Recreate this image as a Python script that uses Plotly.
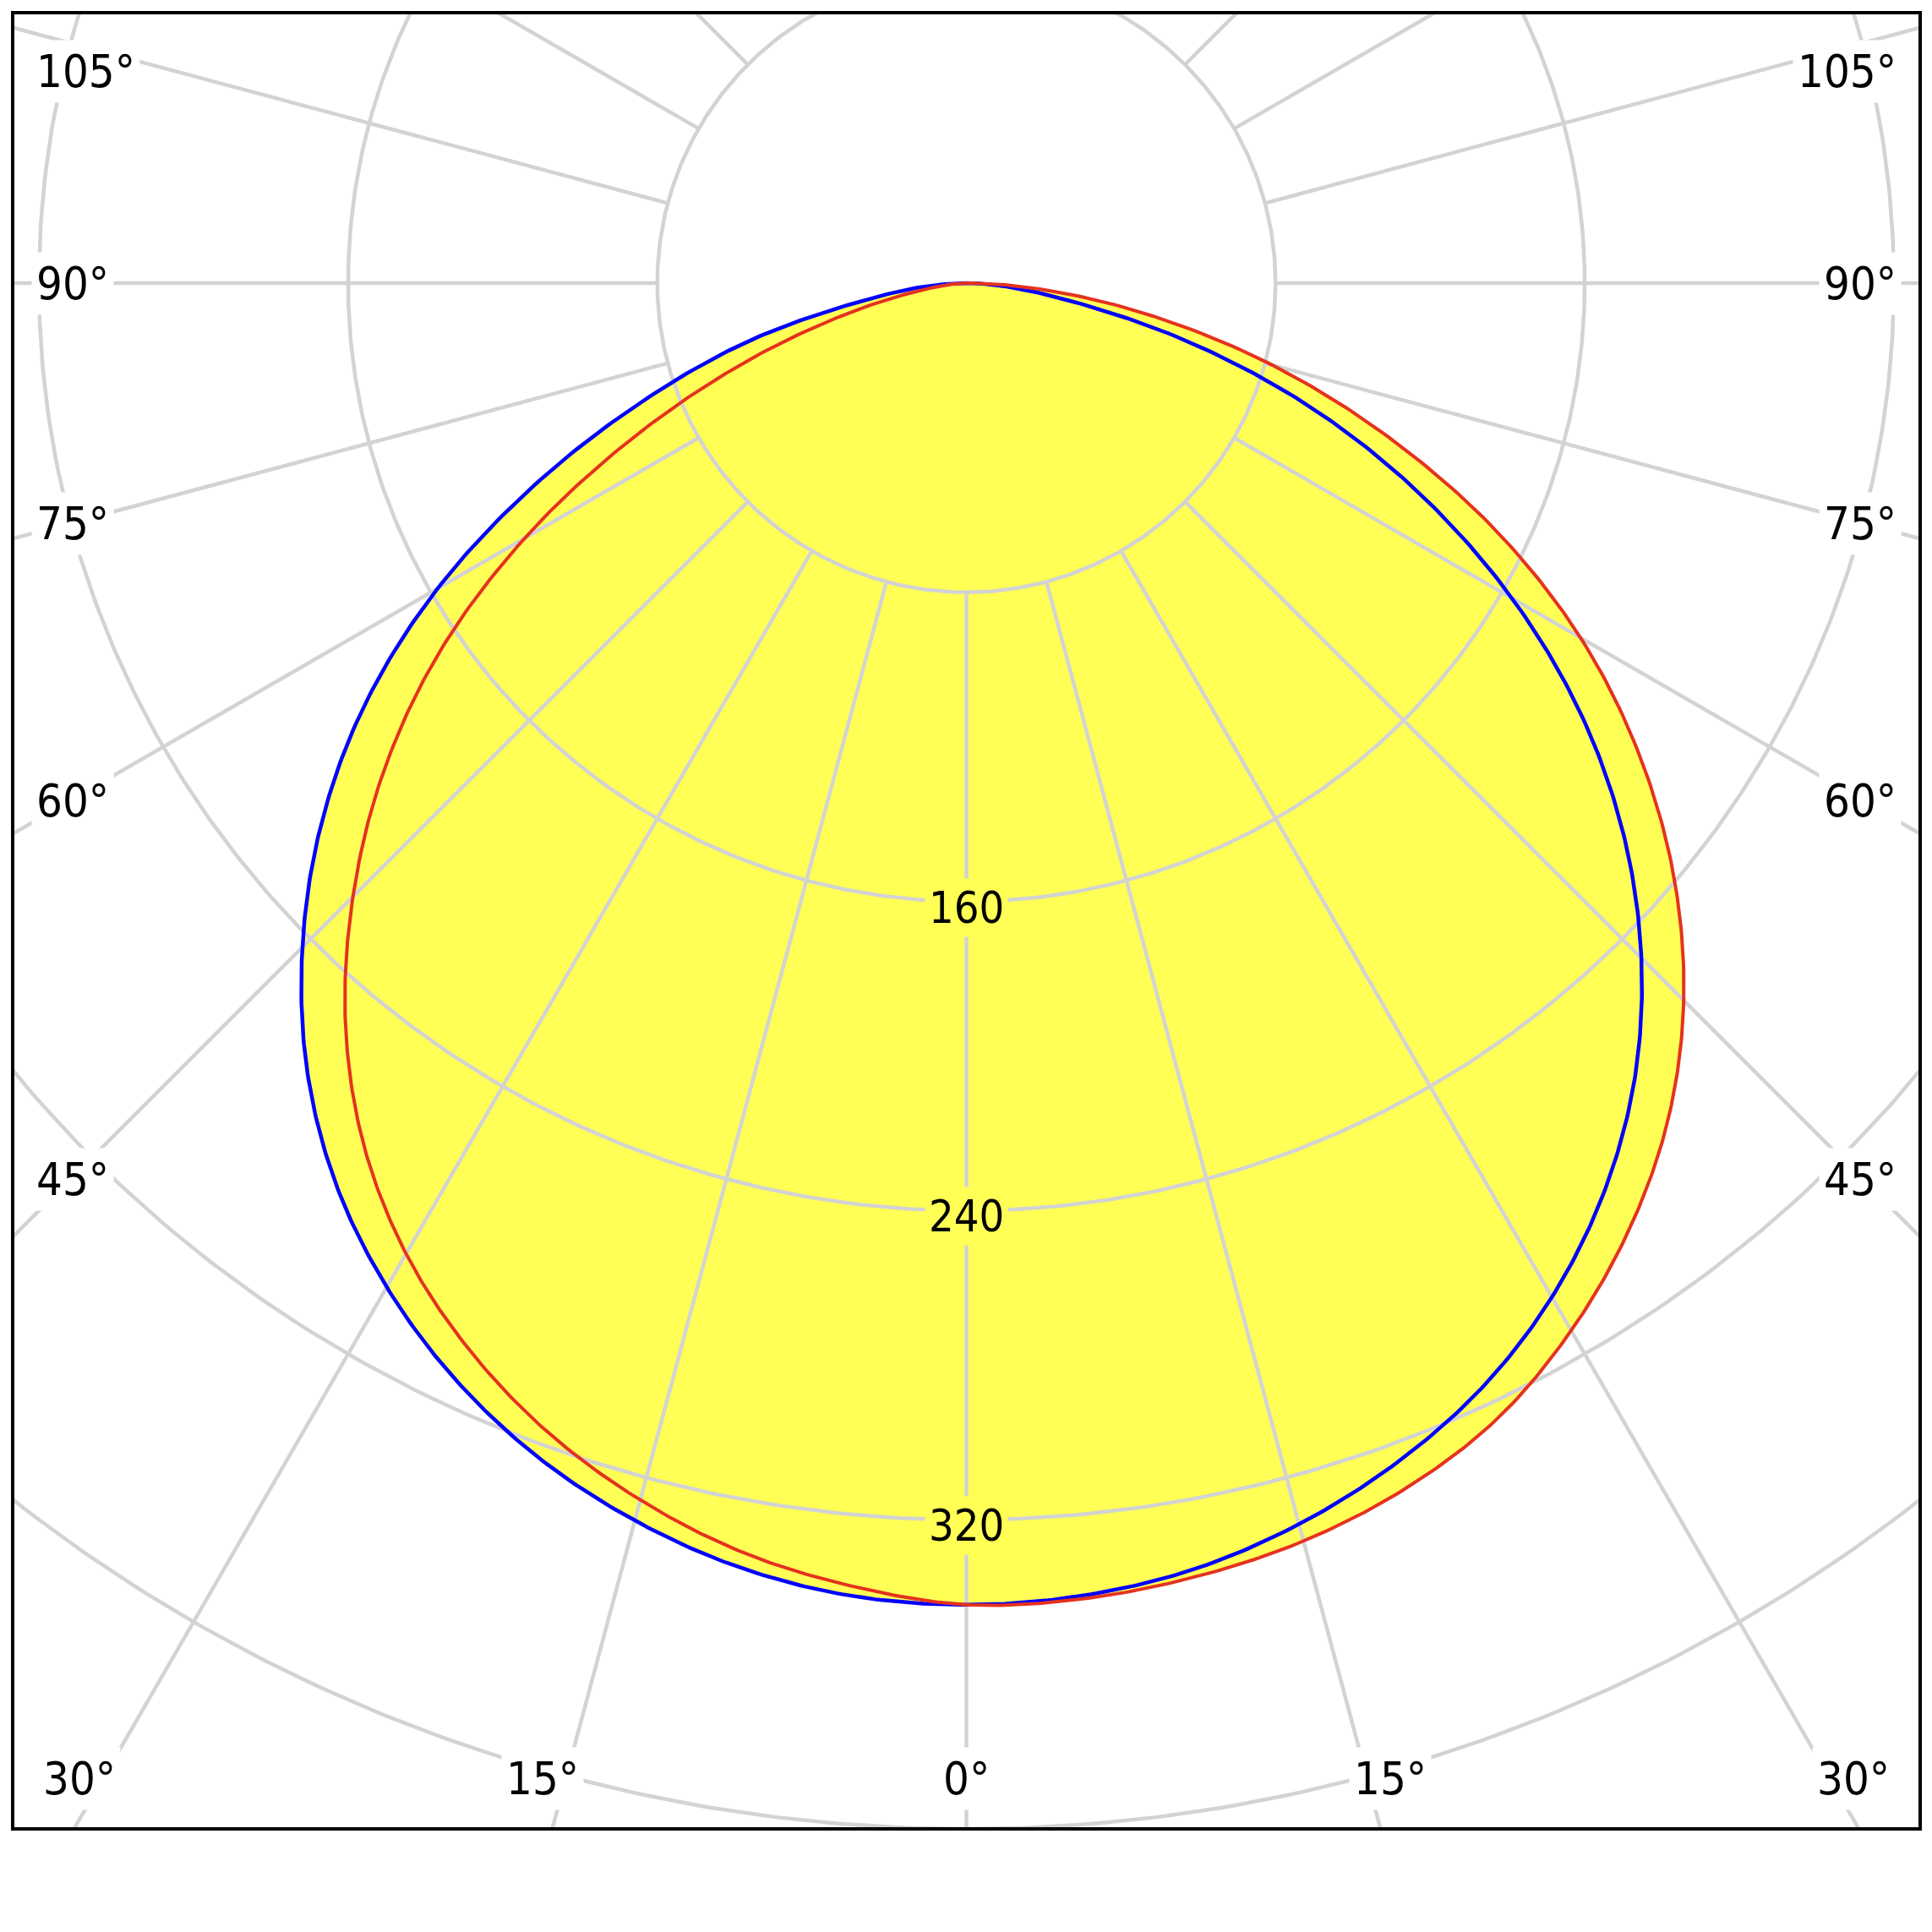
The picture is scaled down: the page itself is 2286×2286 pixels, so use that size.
import numpy as np
import plotly.graph_objects as go

# ---------------- data (luminous intensity, cd/klm) ----------------
angles = [0, 5, 10, 15, 20, 25, 30, 35, 40, 45, 50, 55, 60, 65, 70, 75, 80, 85, 90]
c0   = [342, 341, 338, 332.5, 325, 315.5, 303, 287.5, 269, 247, 222, 194, 163, 130, 96, 61, 29, 11, 0]      # blue, right half
c180 = [342, 341, 337.5, 331.5, 323.5, 313, 300, 284.5, 265.5, 243, 218, 190, 158, 123, 89, 59, 29, 12, 0]  # blue, left half
c90  = [342, 341.8, 340, 337, 332, 324.5, 313, 299, 282.5, 262.5, 239, 212.5, 183.5, 151, 116, 82, 49, 21, 0]  # red, right half
c270 = [342, 338.5, 333.5, 326, 316.5, 304.5, 290, 272, 250, 224.5, 197, 166.5, 132, 96, 63, 35, 15, 5, 0]   # red, left half

ring_values = [80, 160, 240, 320, 400, 480]
ring_label_values = [160, 240, 320]
spoke_angles = list(range(0, 360, 15))
angle_label_values = [0, 15, 30, 45, 60, 75, 90, 105]

# ---------------- styling ----------------
YELLOW = "#FFFF55"
GRID = "#D3D3D3"
BLUE = "#0000FF"
RED = "#E5321E"
FONT = "DejaVu Sans Condensed, DejaVu Sans, sans-serif"

XL, XR = -246.8, 246.8
YB, YT = -400.0, 70.0


def catmull_rom(v, n=24):
    v = np.asarray(v, float)
    p = np.concatenate([[2 * v[0] - v[1]], v, [2 * v[-1] - v[-2]]])
    out = []
    for i in range(1, len(p) - 2):
        p0, p1, p2, p3 = p[i - 1], p[i], p[i + 1], p[i + 2]
        t = np.linspace(0, 1, n, endpoint=False)
        out.append(0.5 * (2 * p1 + (-p0 + p2) * t + (2 * p0 - 5 * p1 + 4 * p2 - p3) * t ** 2
                          + (-p0 + 3 * p1 - 3 * p2 + p3) * t ** 3))
    out.append([v[-1]])
    return np.concatenate(out)


def outline(right, left):
    # one sweep from the left half (at 90 deg) through nadir to the right half (at 90 deg)
    th = np.concatenate([-np.array(angles[::-1], float), np.array(angles[1:], float)])
    r = np.concatenate([np.array(left[::-1], float), np.array(right[1:], float)])
    ths = np.radians(catmull_rom(th))
    rs = np.clip(catmull_rom(r), 0, None)
    return rs * np.sin(ths), -rs * np.cos(ths)


fig = go.Figure()

bx, by = outline(c0, c180)
rx, ry = outline(c90, c270)

# yellow fills
for x, y in [(bx, by), (rx, ry)]:
    fig.add_trace(go.Scatter(x=x, y=y, mode="lines", fill="toself", fillcolor=YELLOW,
                             line=dict(width=0, color=YELLOW),
                             hoverinfo="skip", showlegend=False))

# grid rings
t = np.linspace(0, 2 * np.pi, 721)
gx, gy = [], []
for rv in ring_values:
    gx += list(rv * np.sin(t)) + [None]
    gy += list(-rv * np.cos(t)) + [None]
# spokes (starting at first ring)
for a in spoke_angles:
    ar = np.radians(a)
    gx += [ring_values[0] * np.sin(ar), 700 * np.sin(ar), None]
    gy += [-ring_values[0] * np.cos(ar), -700 * np.cos(ar), None]
fig.add_trace(go.Scatter(x=gx, y=gy, mode="lines", line=dict(color=GRID, width=4.5),
                         hoverinfo="skip", showlegend=False))

# curves
fig.add_trace(go.Scatter(x=bx, y=by, mode="lines", line=dict(color=BLUE, width=4.5),
                         showlegend=False))
fig.add_trace(go.Scatter(x=rx, y=ry, mode="lines", line=dict(color=RED, width=4),
                         showlegend=False))

annotations = []
# radial labels
for rv in ring_label_values:
    annotations.append(dict(x=0, y=-rv - 1.5, xref="x", yref="y", text=str(rv), showarrow=False,
                            font=dict(family=FONT, size=52, color="black"),
                            bgcolor=YELLOW, borderpad=4, xanchor="center", yanchor="middle"))

# angle labels
for a in angle_label_values:
    ar = np.radians(a)
    sides = [1, -1] if a != 0 else [1]
    for s in sides:
        if abs(YB) * np.tan(ar) <= abs(XL) and a < 90:
            # bottom edge
            x = s * ((abs(YB) - 13) * np.tan(ar) + (6 if a > 0 else 0))
            y = YB + 13
            xa = "center"
        else:
            y = -232 * np.cos(ar) / np.sin(ar)
            y = min(y, YT - 15.3)
            x = s * 242
            xa = "left" if s < 0 else "right"
        annotations.append(dict(x=x, y=y, xref="x", yref="y", text=f"{a}°", showarrow=False,
                                font=dict(family=FONT, size=54, color="black"),
                                bgcolor="white", borderpad=5, xanchor=xa, yanchor="middle"))

fig.update_layout(
    width=2270, height=2270,
    margin=dict(l=7, r=6, t=7, b=114),
    paper_bgcolor="white", plot_bgcolor="white",
    xaxis=dict(range=[XL, XR], showgrid=False, zeroline=False, showticklabels=False,
               ticks="", fixedrange=True),
    yaxis=dict(range=[YB, YT], showgrid=False, zeroline=False, showticklabels=False,
               ticks="", fixedrange=True),
    annotations=annotations,
    shapes=[dict(type="rect", xref="paper", yref="paper", x0=0, y0=0, x1=1, y1=1,
                 line=dict(color="black", width=4), layer="above")],
    showlegend=False,
)

fig.write_html("out.html")
